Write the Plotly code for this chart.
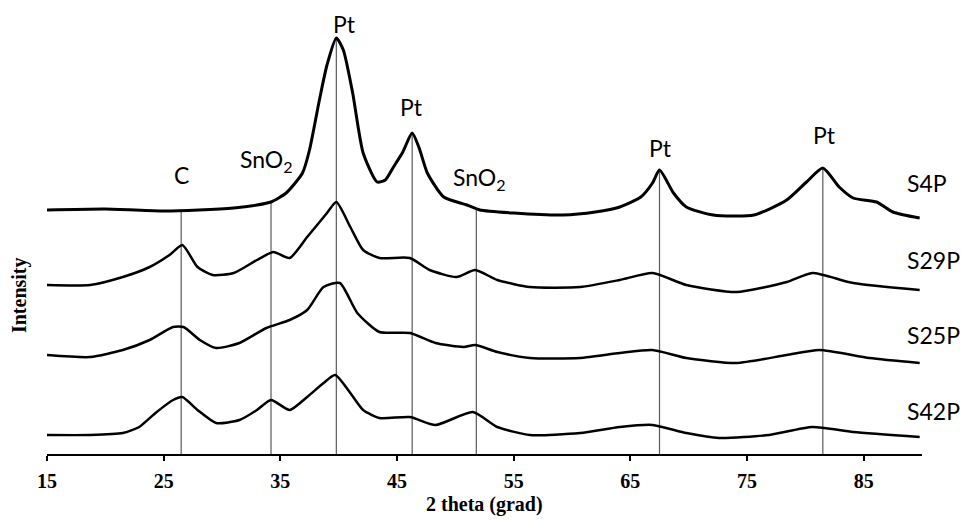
import numpy as np
import plotly.graph_objects as go

# XRD patterns (2-theta in degrees, stacked intensity in arbitrary units)
s4p_theta = [15, 20, 25, 28, 31, 33, 34.2, 35.5, 36.9, 37.5, 38.4, 39.0, 39.8, 40.4, 41.2,
             42.1, 43.3, 44.0, 44.7, 45.5, 46.3, 46.9, 47.6, 49.0, 51.0, 52.1, 55, 59.2, 62,
             64.1, 65.9, 66.9, 67.5, 68.7, 69.8, 72.1, 75.6, 78.4, 80.1, 81.5, 82.9, 84.1,
             86.1, 87.5, 89.8]
s4p_int = [244, 245, 243, 244, 246, 249, 252, 261, 281, 304, 357, 389, 416, 404, 361,
           301, 272, 274, 287, 302, 321, 306, 281, 257, 249, 244, 241, 239, 242,
           247, 257, 271, 284, 261, 247, 239, 239, 254, 272, 286, 267, 256,
           252, 242, 236]

s29p_theta = [15, 18.7, 21.5, 23.8, 25.5, 26.6, 27.9, 29.2, 31, 33, 34.4, 35.8, 37.3, 39, 39.8,
              41, 42.1, 43.5, 46.1, 47.8, 50.1, 51.7, 53.6, 56.4, 60.7, 64.1, 66.9, 69.8,
              74.1, 78.4, 80.6, 84.1, 89.8]
s29p_int = [169, 169, 177, 187, 199, 209, 187, 179, 181, 194, 202, 196, 217, 241, 252,
            227, 204, 196, 196, 184, 177, 184, 174, 167, 167, 174, 181, 169,
            162, 172, 181, 171, 164]

s25p_theta = [15, 18.7, 21.5, 23.8, 25.8, 26.7, 28.1, 29.5, 31.5, 33.8, 35.8, 37.3, 38.7, 40.1,
              41.6, 43.5, 46.1, 48.3, 50.7, 51.7, 53.6, 56.4, 60.7, 64.1, 66.9, 69.8, 74.1,
              78.4, 81.2, 85.5, 89.8]
s25p_int = [99, 97, 104, 114, 127, 127, 114, 106, 111, 126, 134, 144, 167, 171,
            141, 122, 121, 111, 107, 109, 102, 96, 96, 101, 104, 96, 91,
            99, 104, 96, 91]

s42p_theta = [15, 18.7, 21.5, 22.9, 24.3, 25.8, 26.6, 27.9, 29.5, 31.5, 33, 34.2, 35.8, 37.3,
              38.7, 39.7, 41, 42.1, 43.5, 46.1, 48.3, 51.5, 53.6, 56.4, 60.7, 64.1, 66.9,
              69.8, 72.6, 76.9, 80.6, 84.1, 89.8]
s42p_int = [19, 19, 21, 27, 41, 54, 57, 44, 31, 34, 44, 54, 44, 57,
            71, 79, 61, 44, 36, 37, 29, 42, 27, 19, 21, 27, 29,
            21, 16, 19, 27, 22, 17]

sample_names = ["S4P", "S29P", "S25P", "S42P"]

# Reflection positions and phase labels
peak_theta = [26.5, 34.2, 39.8, 46.3, 51.8, 67.5, 81.5]
peak_phase = ["C", "SnO<sub>2</sub>", "Pt", "Pt", "SnO<sub>2</sub>", "Pt", "Pt"]

x_ticks = [15, 25, 35, 45, 55, 65, 75, 85]

fig = go.Figure()

# Reference lines from the axis up to the S4P pattern
tops = np.interp(peak_theta, s4p_theta, s4p_int)
for th, top in zip(peak_theta, tops):
    fig.add_trace(go.Scatter(x=[th, th], y=[0, top], mode="lines",
                             line=dict(color="#5a5a5a", width=1.2),
                             hoverinfo="skip", showlegend=False))

patterns = [(s4p_theta, s4p_int), (s29p_theta, s29p_int),
            (s25p_theta, s25p_int), (s42p_theta, s42p_int)]
widths = [3.0, 2.5, 2.5, 2.5]
for name, (th, iy), w in zip(sample_names, patterns, widths):
    fig.add_trace(go.Scatter(x=th, y=iy, mode="lines", name=name,
                             line=dict(color="black", width=w, shape="spline", smoothing=0.6),
                             showlegend=False))

label_font = dict(family="Lato, 'Open Sans', sans-serif", size=23, color="black")

# Phase labels above each reflection
label_pos = [(26.5, 279), (33.8, 294), (40.5, 430), (46.2, 347),
             (52.1, 276), (67.6, 306), (81.6, 319)]
for txt, (lx, ly) in zip(peak_phase, label_pos):
    fig.add_annotation(x=lx, y=ly, text=txt, showarrow=False, font=label_font,
                       xanchor="center", yanchor="middle")

# Sample names at the right end of each pattern
sample_y = [0.610, 0.437, 0.268, 0.097]
for name, py in zip(sample_names, sample_y):
    fig.add_annotation(x=0.9806, y=py, xref="paper", yref="paper", text=name,
                       showarrow=False, font=label_font, xanchor="left", yanchor="middle")

serif_bold = dict(family="'Liberation Serif', 'Times New Roman', serif", size=20, color="black")

fig.add_annotation(x=0.5, y=-0.113, xref="paper", yref="paper",
                   text="<b>2 theta (grad)</b>", showarrow=False, font=serif_bold,
                   xanchor="center", yanchor="middle")
fig.add_annotation(x=-0.032, y=0.358, xref="paper", yref="paper",
                   text="<b>Intensity</b>", showarrow=False, font=serif_bold,
                   textangle=-90, xanchor="center", yanchor="middle")

fig.update_layout(
    width=965, height=520,
    margin=dict(l=47, r=43, t=10, b=66),
    plot_bgcolor="white", paper_bgcolor="white",
    xaxis=dict(range=[15, 90], tickvals=x_ticks,
               ticktext=[f"<b>{v}</b>" for v in x_ticks],
               showgrid=False, zeroline=False,
               showline=True, linecolor="black", linewidth=2,
               ticks="outside", ticklen=5, tickwidth=2, tickcolor="black",
               ticklabelstandoff=3,
               tickfont=dict(family="'Liberation Serif', 'Times New Roman', serif",
                             size=20, color="black")),
    yaxis=dict(range=[0, 444], visible=False, showgrid=False, zeroline=False),
)

fig.write_html("out.html")
